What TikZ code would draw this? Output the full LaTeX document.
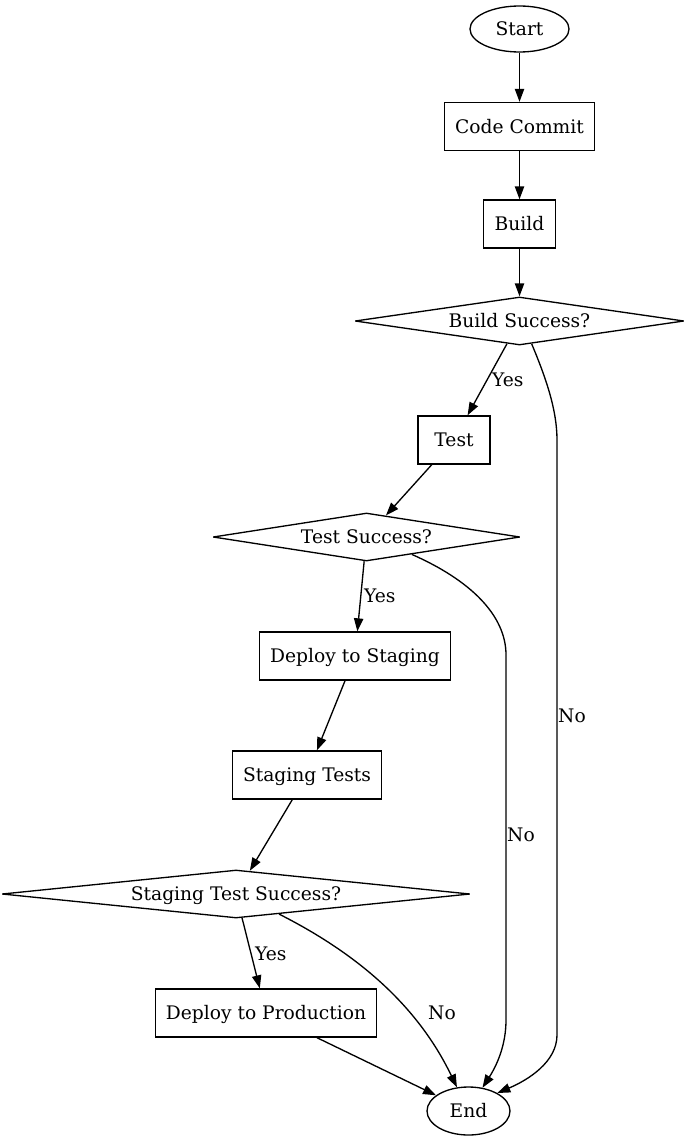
\documentclass[tikz,border=0pt]{standalone}
\usepackage{fontspec}
\setmainfont{DejaVu Serif}
\usetikzlibrary{shapes.geometric,arrows.meta,calc}
\begin{document}
\begin{tikzpicture}[x=1pt,y=-1pt,
  every node/.style={font=\fontsize{18.67pt}{22pt}\selectfont, text height=13.6pt, text depth=0pt},
  base/.style={draw, line width=1.33pt, inner sep=0pt},
  term/.style={base, ellipse, minimum width=99pt, minimum height=46pt},
  proc/.style={base, rectangle, minimum height=48pt, minimum width=72pt, inner xsep=10.5pt},
  decide/.style={base, diamond, minimum height=48pt, line join=bevel},
  lab/.style={anchor=west, inner sep=0pt},
  flow/.style={line width=1.33pt, -{Triangle[length=13pt,width=9.3pt]}}
]
\useasboundingbox (0,0) rectangle (687,1140);

% nodes of the pipeline
\node[term] (start) at (519.5,29) {Start};
\node[proc] (commit) at (519.5,126.5) {Code Commit};
\node[proc] (build) at (519.5,224) {Build};
\node[decide, minimum width=329pt, label=center:{Build Success?}] (bs) at (519.5,321) {};
\node[proc] (test) at (454,440) {Test};
\node[decide, minimum width=307pt, label=center:{Test Success?}] (ts) at (366.5,537) {};
\node[proc] (stage) at (355,656) {Deploy to Staging};
\node[proc] (stests) at (307,775) {Staging Tests};
\node[decide, minimum width=468pt, label=center:{Staging Test Success?}] (sts) at (236,894) {};
\node[proc] (prod) at (266,1013) {Deploy to Production};
\node[term, minimum width=83pt, minimum height=48pt] (stop) at (468.5,1111) {End};

% straight connectors
\draw[flow] (start) -- (commit);
\draw[flow] (commit) -- (build);
\draw[flow] (build) -- (bs);
\draw[flow] (bs) -- (test);
\draw[flow] (test) -- (ts);
\draw[flow] (ts) -- (stage);
\draw[flow] (stage) -- (stests);
\draw[flow] (stests) -- (sts);
\draw[flow] (sts) -- (prod);
\draw[flow] (prod) -- (stop);

% failure branches
\draw[flow] (bs.-62) .. controls (546,378) and (557,410) .. (557,440)
  -- (557,1035) .. controls (557,1062) and (528,1080) .. (stop.32);
\draw[flow] (ts.-21) .. controls (470,580) and (506,615) .. (506,655)
  -- (506,1020) .. controls (506,1045) and (497,1065) .. (stop.59);
\draw[flow] (sts.-25.5) .. controls (350,950) and (415,1000) .. (stop.116);

% edge labels
\node[lab] (ybs) at (492,380) {Yes};
\node[lab] (yts) at (364,596) {Yes};
\node[lab] (ysts) at (255,953.5) {Yes};
\node[lab] (nbs) at (558,716) {No};
\node[lab] (nts) at (507,835) {No};
\node[lab] (nsts) at (428,1013) {No};
\end{tikzpicture}
\end{document}
